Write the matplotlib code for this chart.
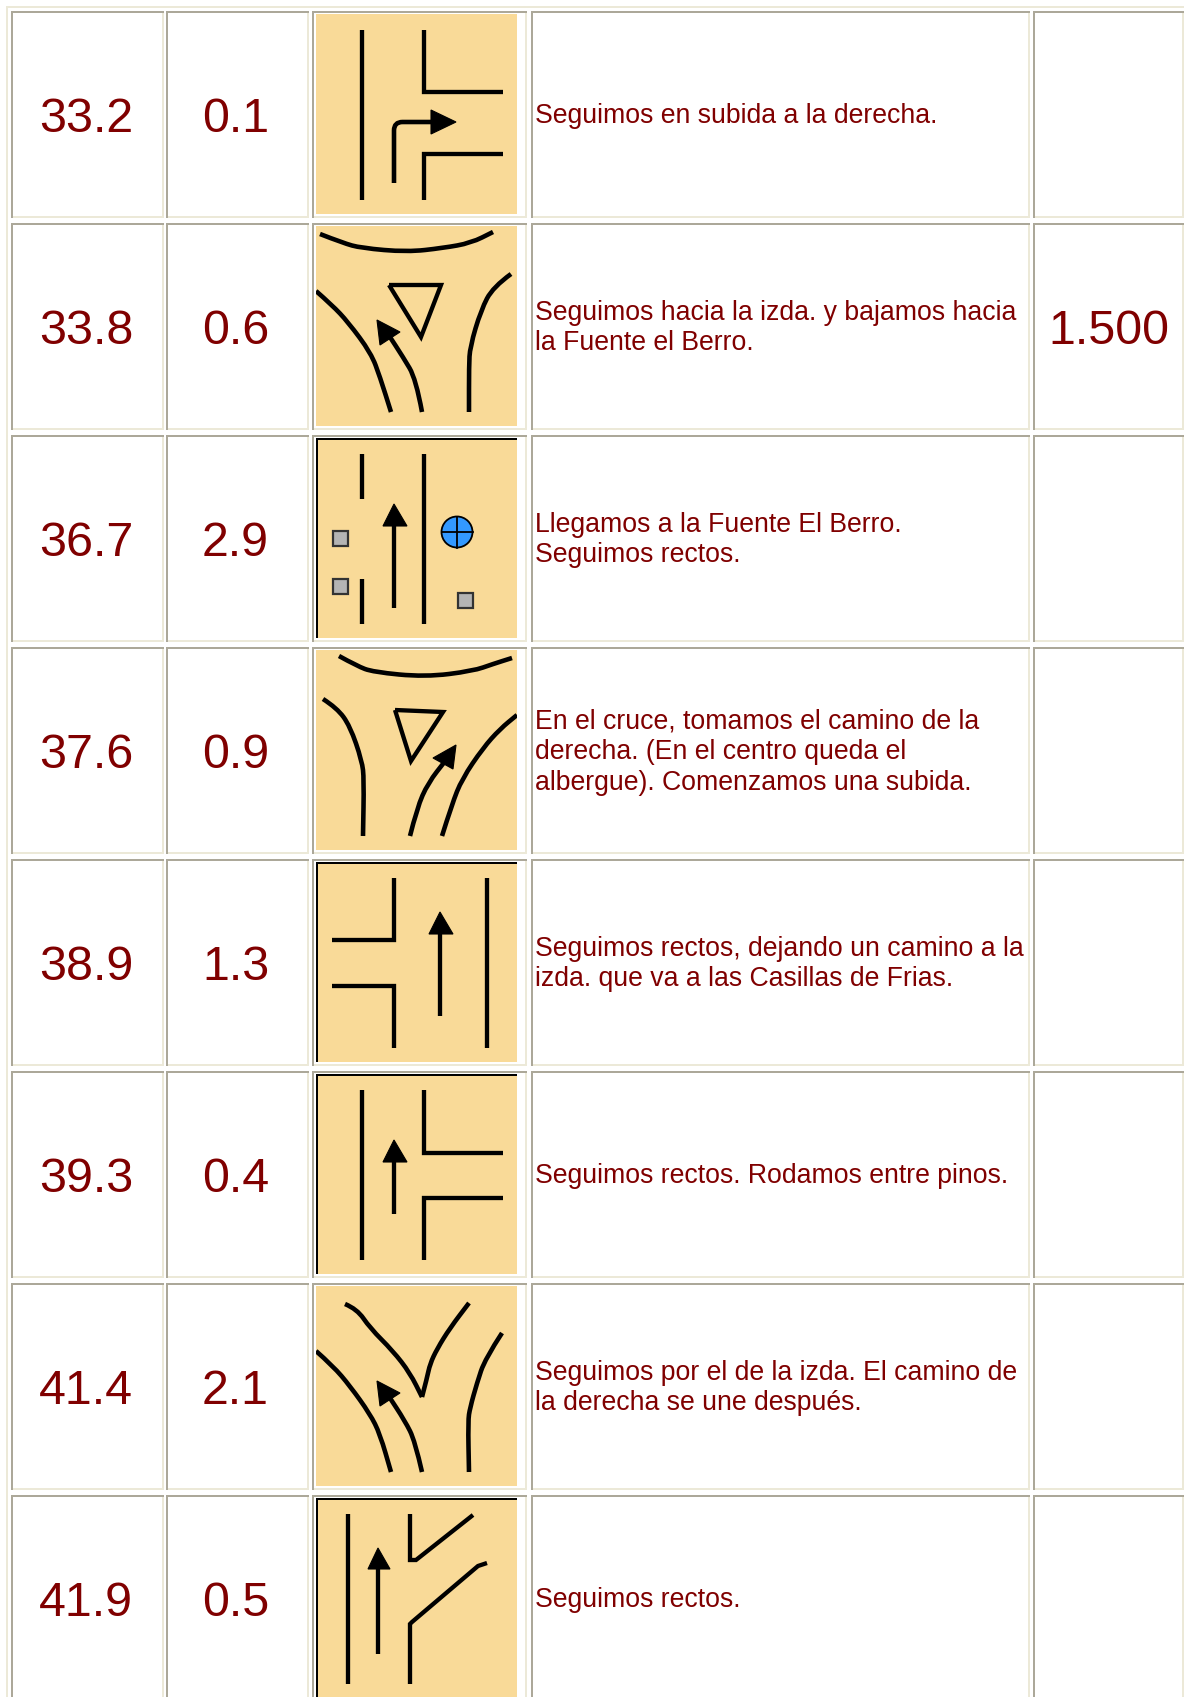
import matplotlib
matplotlib.use('Agg')
from matplotlib import pyplot as plt
from matplotlib.patches import Rectangle, Polygon, Circle, PathPatch
from matplotlib.path import Path

plt.rcParams['font.family'] = ['Liberation Sans', 'DejaVu Sans']

#table contents
km = ['33.2', '33.8', '36.7', '37.6', '38.9', '39.3', '41.4', '41.9']
parcial = ['0.1', '0.6', '2.9', '0.9', '1.3', '0.4', '2.1', '0.5']
altitud = ['', '1.500', '', '', '', '', '', '']
notas = [
    ['Seguimos en subida a la derecha.'],
    ['Seguimos hacia la izda. y bajamos hacia', 'la Fuente el Berro.'],
    ['Llegamos a la Fuente El Berro.', 'Seguimos rectos.'],
    ['En el cruce, tomamos el camino de la', 'derecha. (En el centro queda el', 'albergue). Comenzamos una subida.'],
    ['Seguimos rectos, dejando un camino a la', 'izda. que va a las Casillas de Frias.'],
    ['Seguimos rectos. Rodamos entre pinos.'],
    ['Seguimos por el de la izda. El camino de', 'la derecha se une después.'],
    ['Seguimos rectos.'],
]

#road sketches, local pixels inside each 200x200 picture
lineas_1 = [
    [(46, 16), (46, 186)],
    [(108, 16), (108, 78), (187, 78)],
    [(187, 140), (108, 140), (108, 186)],
]
curvas_1 = [
    [(78, 169), (78, 125), (78, 108), (95, 108), (118, 108)],
]
cabeza_1 = [(115, 96), (140, 108), (115, 120)]

lineas_2 = [
    [(73, 59), (125, 59), (105, 111), (73, 59)],
]
curvas_2 = [
    [(4, 8), (27, 17), (45, 22), (91, 26), (127, 22), (155, 17), (177, 6)],
    [(0, 65), (16, 79), (32, 96), (55, 127), (64, 151), (75, 186)],
    [(195, 48), (177, 61), (165, 84), (154, 121), (153, 140), (153, 186)],
    [(106, 186), (100, 153), (87, 131), (72, 108)],
]
cabeza_2 = [(61, 94), (84, 106), (64, 119)]

lineas_3 = [
    [(46, 16), (46, 61)],
    [(46, 141), (46, 186)],
    [(108, 16), (108, 186)],
    [(78, 170), (78, 86)],
]
curvas_3 = []
cabeza_3 = [(78, 66), (91, 88), (67, 88)]
cuadros_3 = [(24, 100), (24, 148), (149, 162)]
fuente_3 = (141, 94)

lineas_4 = [
    [(79, 60), (127, 62), (95, 111), (79, 60)],
]
curvas_4 = [
    [(23, 6), (41, 16), (57, 22), (109, 27), (157, 21), (177, 14), (196, 8)],
    [(7, 49), (21, 58), (34, 76), (46, 111), (48, 129), (47, 186)],
    [(94, 186), (101, 158), (112, 133), (130, 110)],
    [(126, 186), (136, 154), (146, 129), (167, 98), (184, 79), (201, 65)],
]
cabeza_4 = [(140, 95), (117, 108), (137, 119)]

lineas_5 = [
    [(78, 16), (78, 78), (16, 78)],
    [(16, 124), (78, 124), (78, 186)],
    [(124, 154), (124, 70)],
    [(171, 16), (171, 186)],
]
curvas_5 = []
cabeza_5 = [(124, 50), (137, 72), (113, 72)]

lineas_6 = [
    [(46, 16), (46, 186)],
    [(108, 16), (108, 79), (187, 79)],
    [(187, 124), (108, 124), (108, 186)],
    [(78, 140), (78, 86)],
]
curvas_6 = []
cabeza_6 = [(78, 66), (91, 88), (67, 88)]

lineas_7 = []
curvas_7 = [
    [(29, 18), (41, 23), (54, 42), (77, 65), (94, 87), (106, 111)],
    [(106, 111), (111, 92), (114, 78), (121, 63), (134, 42), (153, 17)],
    [(0, 65), (17, 80), (34, 100), (54, 128), (64, 148), (75, 186)],
    [(186, 47), (169, 73), (161, 97), (154, 122), (152, 135), (153, 186)],
    [(106, 186), (99, 155), (89, 135), (72, 109)],
]
cabeza_7 = [(61, 95), (84, 107), (64, 120)]

lineas_8 = [
    [(32, 16), (32, 186)],
    [(62, 156), (62, 68)],
    [(94, 16), (94, 62), (100, 62), (157, 17)],
    [(171, 65), (162, 68), (96, 124), (94, 126), (94, 186)],
]
curvas_8 = []
cabeza_8 = [(62, 50), (74, 71), (52, 71)]

bocetos = [
    (lineas_1, curvas_1, cabeza_1), (lineas_2, curvas_2, cabeza_2),
    (lineas_3, curvas_3, cabeza_3), (lineas_4, curvas_4, cabeza_4),
    (lineas_5, curvas_5, cabeza_5), (lineas_6, curvas_6, cabeza_6),
    (lineas_7, curvas_7, cabeza_7), (lineas_8, curvas_8, cabeza_8),
]
#pictures with the black frame on top and left
con_marco = [2, 4, 5, 7]

ROJO = '#800000'
OSCURO = '#aca899'
CLARO = '#ece9d8'
CREMA = '#f9da98'

columnas = [(11, 163.5), (166, 309), (311.5, 527), (531, 1030), (1033, 1184)]
fila_top = 10.5
fila_paso = 212
fila_alto = 207.5
img_x = 316
img_dy = 3.5

def caja(ax, x, y, w, h, color, z=1):
    ax.add_patch(Rectangle((x, y), w, h, facecolor=color, edgecolor='none', zorder=z))

#quadratic curve through the midpoints, keeps hand read points from looking faceted
def suave(puntos):
    verts = [puntos[0]]
    codes = [Path.MOVETO]
    for a, b in zip(puntos[1:-1], puntos[2:]):
        verts += [a, ((a[0] + b[0]) / 2, (a[1] + b[1]) / 2)]
        codes += [Path.CURVE3, Path.CURVE3]
    verts.append(puntos[-1])
    codes.append(Path.LINETO)
    return Path(verts, codes)

fig = plt.figure(figsize=(11.84, 16.97), dpi=100)
ax = fig.add_axes([0, 0, 1, 1])
ax.set_xlim(0, 1184)
ax.set_ylim(1697, 0)
ax.axis('off')

#outer table border
caja(ax, 6, 6, 1178, 2, CLARO)
caja(ax, 6, 6, 2, 1691, CLARO)

for i in range(len(km)):
    top = fila_top + i * fila_paso

    #cell borders
    for x0, x1 in columnas:
        caja(ax, x0, top + fila_alto - 2, x1 - x0, 2, CLARO)
        caja(ax, x1 - 2, top, 2, fila_alto, CLARO)
        caja(ax, x0, top, x1 - x0, 2, OSCURO, 2)
        caja(ax, x0, top, 2, fila_alto, OSCURO, 2)

    #big numbers
    base = top + 122
    ax.text(86, base, km[i], color=ROJO, fontsize=34.8, ha='center', va='baseline')
    ax.text(235.5, base, parcial[i], color=ROJO, fontsize=34.8, ha='center', va='baseline')
    if altitud[i]:
        ax.text(1108.5, base, altitud[i], color=ROJO, fontsize=34.8, ha='center', va='baseline')

    #description lines
    centro = top + 104.5
    n = len(notas[i])
    for k, linea in enumerate(notas[i]):
        y = centro + 8 + (k - (n - 1) / 2) * 30.7
        ax.text(535, y, linea, color=ROJO, fontsize=19.15, ha='left', va='baseline')

    #picture
    y0 = top + img_dy
    fondo = Rectangle((img_x, y0), 201, 200, facecolor=CREMA, edgecolor='none', zorder=3)
    ax.add_patch(fondo)
    lineas, curvas, cabeza = bocetos[i]
    for tramo in lineas:
        xs = [img_x + p[0] for p in tramo]
        ys = [y0 + p[1] for p in tramo]
        ln, = ax.plot(xs, ys, color='black', lw=3.1, solid_capstyle='butt',
                      solid_joinstyle='miter', zorder=4)
        ln.set_clip_path(fondo)
    for tramo in curvas:
        camino = suave([(img_x + p[0], y0 + p[1]) for p in tramo])
        pp = PathPatch(camino, facecolor='none', edgecolor='black', lw=3.3,
                       capstyle='butt', joinstyle='round', zorder=4)
        ax.add_patch(pp)
        pp.set_clip_path(fondo)
    ax.add_patch(Polygon([(img_x + p[0], y0 + p[1]) for p in cabeza],
                         closed=True, facecolor='black', edgecolor='black', lw=0.8, zorder=5))
    if i == 2:
        for cx, cy in cuadros_3:
            ax.add_patch(Rectangle((img_x + cx - 7.5, y0 + cy - 7.5), 15, 15, facecolor='#b4b4b4',
                                   edgecolor='#333333', lw=1.6, zorder=4))
        fx = img_x + fuente_3[0]
        fy = y0 + fuente_3[1]
        ax.add_patch(Circle((fx, fy), 15.5, facecolor='#3399ff', edgecolor='black', lw=1.3, zorder=4))
        ax.plot([fx - 15.5, fx + 15.5], [fy, fy], color='black', lw=1.3, zorder=5)
        ax.plot([fx, fx], [fy - 15.5, fy + 15.5], color='black', lw=1.3, zorder=5)
    if i in con_marco:
        caja(ax, img_x, y0, 201, 2, 'black', 6)
        caja(ax, img_x, y0, 2, 200, 'black', 6)

fig.savefig('out.png', dpi=100, facecolor='white')
